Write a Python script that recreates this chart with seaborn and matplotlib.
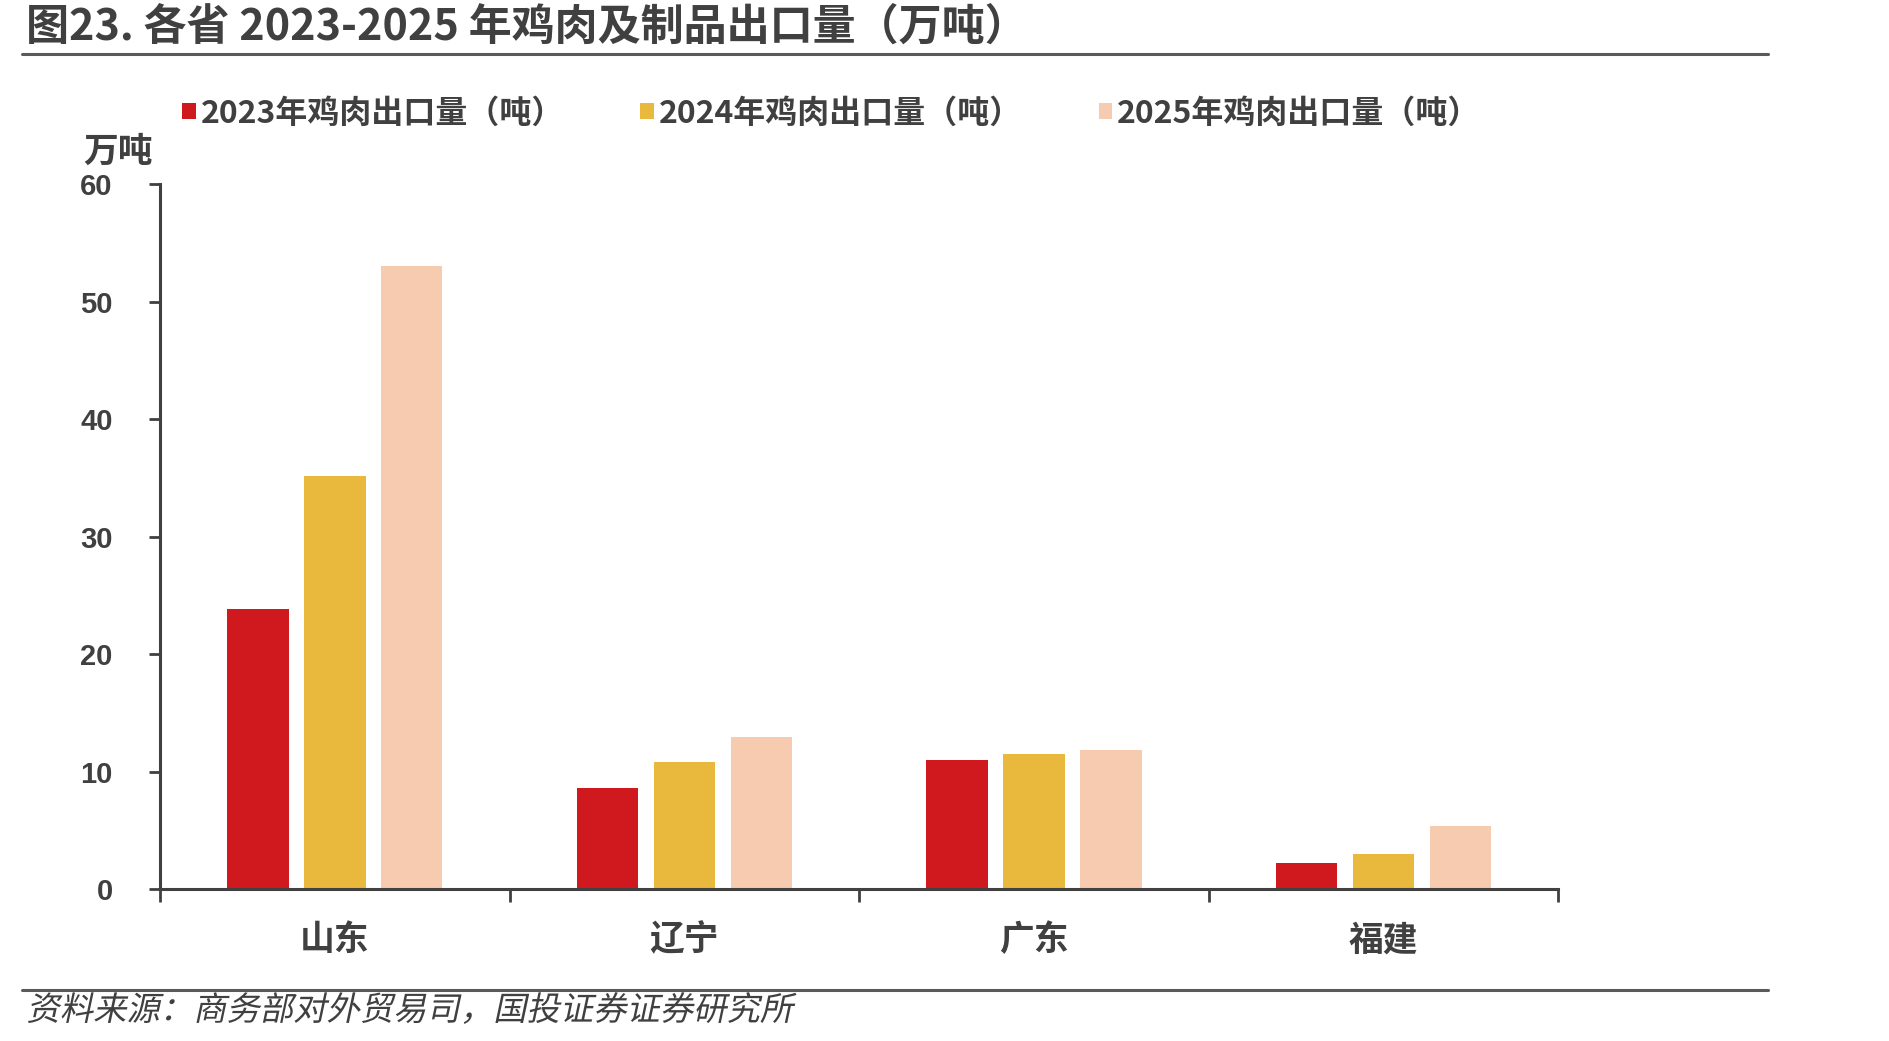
import pandas as pd
import seaborn as sns
import matplotlib.pyplot as plt
from matplotlib.lines import Line2D
from matplotlib.patheffects import AbstractPathEffect
from matplotlib.transforms import Affine2D

# Data (万吨)
provinces = ['山东', '辽宁', '广东', '福建']
series_names = ['2023年鸡肉出口量（吨）', '2024年鸡肉出口量（吨）', '2025年鸡肉出口量（吨）']
exports_2023 = [23.8, 8.6, 11.0, 2.2]
exports_2024 = [35.2, 10.8, 11.5, 3.0]
exports_2025 = [53.0, 12.9, 11.8, 5.4]
y_ticks = [0, 10, 20, 30, 40, 50, 60]

colors = ['#D0191F', '#E8B93D', '#F7CBB0']
text_color = '#404040'


# slants text (CJK font has no italic face)
class Slant(AbstractPathEffect):
    def __init__(self, angle=12):
        super().__init__()
        self.angle = angle

    def draw_path(self, renderer, gc, tpath, affine, rgbFace=None):
        m = affine.get_matrix()
        x0, y0 = m[0, 2], m[1, 2]
        skew = Affine2D().translate(-x0, -y0).skew_deg(self.angle, 0).translate(x0, y0)
        renderer.draw_path(gc, tpath, affine + skew, rgbFace)


# long format table for seaborn
rows = []
for name, values in zip(series_names, [exports_2023, exports_2024, exports_2025]):
    for prov, v in zip(provinces, values):
        rows.append({'province': prov, 'series': name, 'value': v})
df = pd.DataFrame(rows)

sns.set_style('white')
plt.rcParams['font.family'] = ['Noto Sans CJK SC', 'DejaVu Sans']

fig = plt.figure(figsize=(18.89, 10.41), dpi=100)
ax = fig.add_axes([0.0847, 0.146, 0.7403, 0.677])

sns.barplot(data=df, x='province', y='value', hue='series', order=provinces,
            hue_order=series_names, palette=colors, width=0.66, gap=0.2,
            linewidth=0, saturation=1, ax=ax)

ax.set_xlim(-0.5, len(provinces) - 0.5)
ax.set_ylim(0, 60)
ax.set_yticks(y_ticks)
ax.set_xlabel('')
ax.set_ylabel('')

for side in ['top', 'right']:
    ax.spines[side].set_visible(False)
for side in ['left', 'bottom']:
    ax.spines[side].set_color(text_color)
    ax.spines[side].set_linewidth(2.2)

# y ticks
ax.tick_params(axis='y', left=True, direction='out', length=8, width=2,
               color=text_color, pad=26)
for lab in ax.get_yticklabels():
    lab.set_fontfamily(['Liberation Sans', 'DejaVu Sans'])
    lab.set_fontweight('bold')
    lab.set_fontsize(21)
    lab.set_color(text_color)

# x ticks: marks on category boundaries, labels at centers
ax.set_xticks([i - 0.5 for i in range(len(provinces) + 1)], minor=True)
ax.tick_params(axis='x', which='minor', bottom=True, direction='out', length=9,
               width=2, color=text_color)
ax.tick_params(axis='x', which='major', bottom=True, length=0, pad=24)
for lab in ax.get_xticklabels():
    lab.set_fontsize(25)
    lab.set_fontweight('bold')
    lab.set_color(text_color)

# legend on top
handles, labels = ax.get_legend_handles_labels()
ax.legend(handles, labels, loc='center', bbox_to_anchor=(0.44, 0.891),
          bbox_transform=fig.transFigure, ncol=3, frameon=False,
          handlelength=0.42, handleheight=0.42, handletextpad=0.15,
          columnspacing=2.4, labelcolor=text_color,
          prop={'weight': 'bold', 'size': 23})

# unit label
fig.text(0.0625, 0.855, '万吨', fontsize=25, fontweight='bold', color=text_color,
         ha='center', va='center')

# title and separator lines
fig.text(0.014, 0.9745, '图23. 各省 2023-2025 年鸡肉及制品出口量（万吨）',
         fontsize=31, fontweight='bold', color=text_color, ha='left', va='center')
fig.add_artist(Line2D([0.0116, 0.936], [0.948, 0.948], color='#595959', linewidth=2.2))
fig.add_artist(Line2D([0.0116, 0.936], [0.049, 0.049], color='#595959', linewidth=2.2))

fig.text(0.014, 0.029, '资料来源：商务部对外贸易司，国投证券证券研究所',
         fontsize=24, color=text_color, ha='left', va='center',
         path_effects=[Slant(12)])

fig.savefig('out.png', dpi=100, facecolor='white')
